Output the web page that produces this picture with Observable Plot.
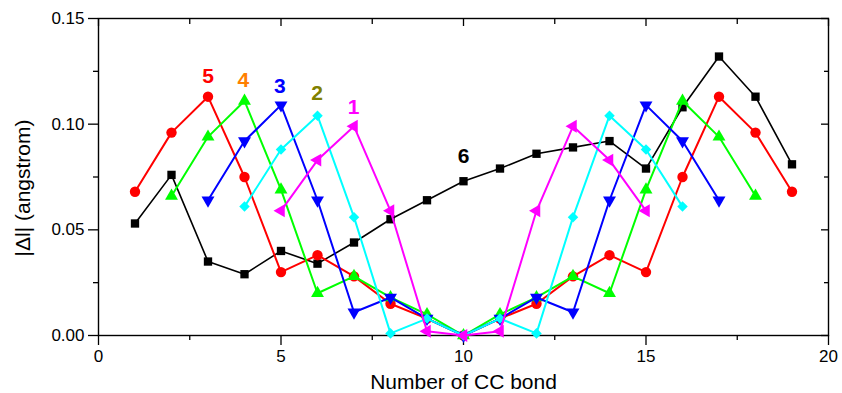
<!DOCTYPE html>
<html>
<head>
<meta charset="utf-8">
<script src="https://cdn.jsdelivr.net/npm/d3@7"></script>
<script src="https://cdn.jsdelivr.net/npm/@observablehq/plot@0.6"></script>
<style>
  html, body { margin: 0; padding: 0; background: #fff; }
  #chart svg { display: block; }
</style>
</head>
<body>
<div id="chart"></div>
<script>
// ---- data ----
const bonds = [1,2,3,4,5,6,7,8,9,10,11,12,13,14,15,16,17,18,19];
const s6 = [0.053,0.076,0.035,0.029,0.040,0.034,0.044,0.055,0.064,0.073,0.079,0.086,0.089,0.092,0.079,0.108,0.132,0.113,0.081];
const s5 = [0.068,0.096,0.113,0.075,0.030,0.038,0.028,0.015,0.008,0.000,0.008,0.015,0.028,0.038,0.030,0.075,0.113,0.096,0.068];
const x4 = [2,3,4,5,6,7,8,9,10,11,12,13,14,15,16,17,18];
const s4 = [0.066,0.094,0.111,0.069,0.020,0.028,0.018,0.010,0.000,0.010,0.018,0.028,0.020,0.069,0.111,0.094,0.066];
const x3 = [3,4,5,6,7,8,9,10,11,12,13,14,15,16,17];
const s3 = [0.064,0.092,0.109,0.064,0.011,0.018,0.008,0.000,0.008,0.018,0.011,0.064,0.109,0.092,0.064];
const x2 = [4,5,6,7,8,9,10,11,12,13,14,15,16];
const s2 = [0.061,0.088,0.104,0.056,0.001,0.008,0.000,0.008,0.001,0.056,0.104,0.088,0.061];
const x1 = [5,6,7,8,9,10,11,12,13,14,15];
const s1 = [0.059,0.083,0.099,0.059,0.002,0.000,0.002,0.059,0.099,0.083,0.059];

const labelText = ["5","4","3","2","1","6"];
const labelX = [3.0, 3.97, 4.97, 5.99, 6.99, 10.0];
const labelY = [0.1193, 0.1175, 0.1147, 0.1115, 0.1049, 0.0815];
const labelColor = ["#ff0000","#ff8000","#0000ff","#808000","#ff00ff","#000000"];

const xMajor = [0,5,10,15,20];
const xMinor = [2.5,7.5,12.5,17.5];
const yMajor = [0,0.05,0.10,0.15];
const yMinor = [0.025,0.075,0.125];
const xTitle = "Number of CC bond";
const yTitle = "|Δl| (angstrom)";

// ---- custom symbols ----
const s3r = Math.sqrt(3);
const triDown = {draw(ctx, size){ const h = Math.sqrt(size/(s3r*3)); ctx.moveTo(0,2*h); ctx.lineTo(s3r*h,-h); ctx.lineTo(-s3r*h,-h); ctx.closePath(); }};
const triLeft = {draw(ctx, size){ const h = Math.sqrt(size/(s3r*3)); ctx.moveTo(-2*h,0); ctx.lineTo(h,-s3r*h); ctx.lineTo(h,s3r*h); ctx.closePath(); }};
const diamond = {draw(ctx, size){ const d = Math.sqrt(size)/Math.SQRT2; ctx.moveTo(0,-d); ctx.lineTo(d,0); ctx.lineTo(0,d); ctx.lineTo(-d,0); ctx.closePath(); }};

const mk = (xs, ys) => xs.map((x,i) => ({x, y: ys[i]}));
const series = [
  {data: mk(bonds, s6), color: "#000000", symbol: "square", r: 4.7, sw: 1.6},
  {data: mk(bonds, s5), color: "#ff0000", symbol: "circle", r: 5.2, sw: 2},
  {data: mk(x4, s4), color: "#00ff00", symbol: "triangle", r: 4.8, sw: 2},
  {data: mk(x3, s3), color: "#0000ff", symbol: triDown, r: 4.8, sw: 2},
  {data: mk(x2, s2), color: "#00ffff", symbol: diamond, r: 4.2, sw: 2},
  {data: mk(x1, s1), color: "#ff00ff", symbol: triLeft, r: 4.8, sw: 2}
];
const labels = labelText.map((t,i) => ({t, x: labelX[i], y: labelY[i], c: labelColor[i]}));

const font = "'Liberation Sans', Arial, Helvetica, sans-serif";
const marks = [Plot.frame({stroke: "black", strokeWidth: 1.4})];
// axes
marks.push(Plot.axisX(xMajor, {anchor: "bottom", tickSize: 10, tickPadding: 4, fontSize: 17, letterSpacing: "0.5px", tickFormat: d => String(d), label: null, strokeWidth: 1.3}));
marks.push(Plot.axisX(xMinor, {anchor: "bottom", tickSize: 5, tickFormat: () => "", label: null, strokeWidth: 1.3}));
marks.push(Plot.axisX(xMajor, {anchor: "top", tickSize: -7, tickFormat: () => "", label: null, strokeWidth: 1.3}));
marks.push(Plot.axisX(xMinor, {anchor: "top", tickSize: -5, tickFormat: () => "", label: null, strokeWidth: 1.3}));
marks.push(Plot.axisY(yMajor, {anchor: "left", tickSize: 10, tickPadding: 4, fontSize: 17, letterSpacing: "0.5px", tickFormat: d3.format(".2f"), label: null, strokeWidth: 1.3}));
marks.push(Plot.axisY(yMinor, {anchor: "left", tickSize: 5, tickFormat: () => "", label: null, strokeWidth: 1.3}));
marks.push(Plot.axisY(yMajor, {anchor: "right", tickSize: -8, tickFormat: () => "", label: null, strokeWidth: 1.3}));
marks.push(Plot.axisY(yMinor, {anchor: "right", tickSize: -5, tickFormat: () => "", label: null, strokeWidth: 1.3}));
// axis titles
marks.push(Plot.text([xTitle], {frameAnchor: "bottom", dy: 47, fontSize: 21, letterSpacing: "0.4px", lineAnchor: "middle", text: d => d}));
marks.push(Plot.text([yTitle], {x: -2.07, y: 0.0698, rotate: -90, fontSize: 21, letterSpacing: "1px", lineAnchor: "middle", textAnchor: "middle", text: d => d}));
// data
for (const s of series) {
  marks.push(Plot.line(s.data, {x: "x", y: "y", stroke: s.color, strokeWidth: s.sw}));
  marks.push(Plot.dot(s.data, {x: "x", y: "y", fill: s.color, stroke: "none", symbol: s.symbol, r: s.r}));
}
marks.push(Plot.text(labels, {x: "x", y: "y", text: "t", fill: "c", fontSize: 21, fontWeight: "bold", lineAnchor: "bottom", textAnchor: "middle"}));

const chart = Plot.plot({
  width: 842, height: 393,
  marginLeft: 98, marginRight: 14, marginTop: 18, marginBottom: 58,
  x: {domain: [0, 20], axis: null},
  y: {domain: [0, 0.15], axis: null},
  style: {fontFamily: font, fontSize: "17px", color: "black", background: "white", overflow: "visible"},
  marks
});
document.getElementById("chart").append(chart);
</script>
</body>
</html>
